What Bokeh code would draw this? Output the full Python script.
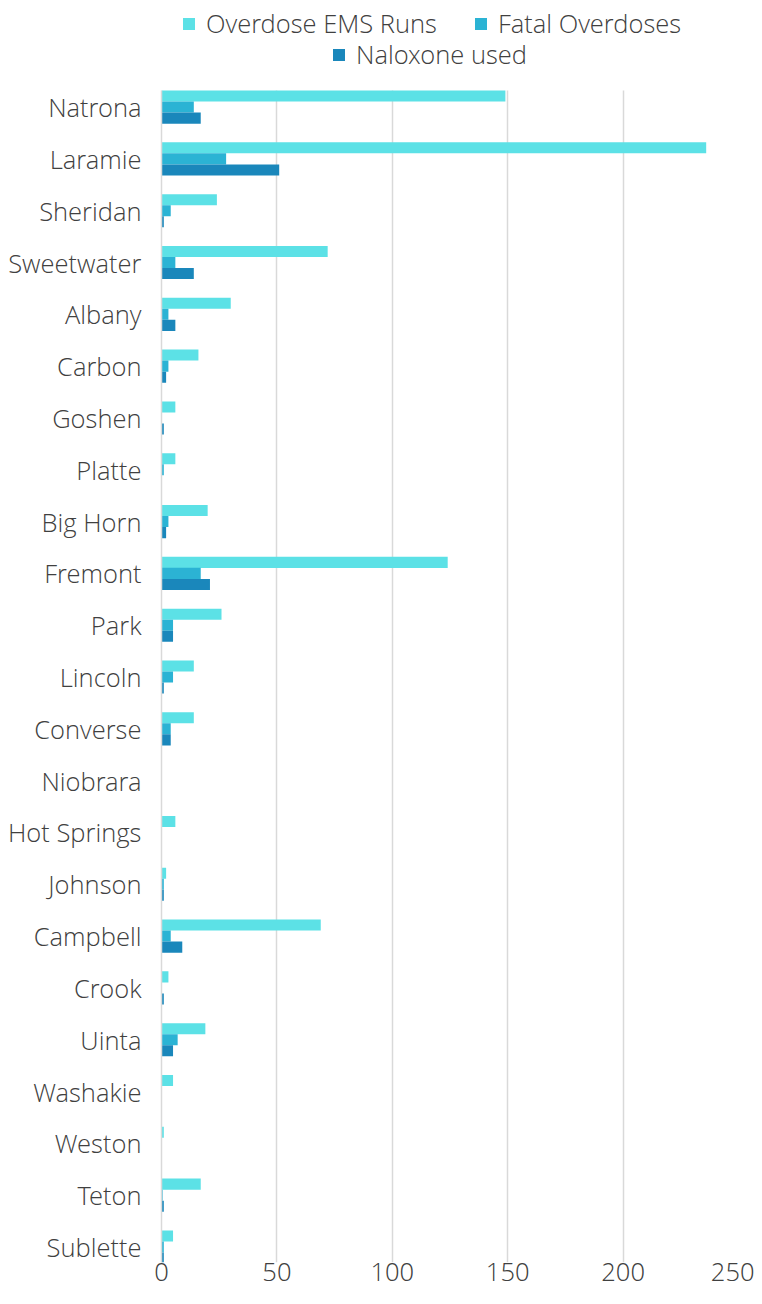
from bokeh.plotting import figure
from bokeh.models import Range1d, Legend, LegendItem, FixedTicker, ColumnDataSource, Grid
from bokeh.transform import dodge
from bokeh.embed import file_html
from bokeh.resources import INLINE

counties = ["Natrona", "Laramie", "Sheridan", "Sweetwater", "Albany", "Carbon", "Goshen",
            "Platte", "Big Horn", "Fremont", "Park", "Lincoln", "Converse", "Niobrara",
            "Hot Springs", "Johnson", "Campbell", "Crook", "Uinta", "Washakie", "Weston",
            "Teton", "Sublette"]
ems_runs = [149, 236, 24, 72, 30, 16, 6, 6, 20, 124, 26, 14, 14, 0, 6, 2, 69, 3, 19, 5, 1, 17, 5]
fatal_overdoses = [14, 28, 4, 6, 3, 3, 0, 1, 3, 17, 5, 5, 4, 0, 0, 1, 4, 0, 7, 0, 0, 0.5, 1]
naloxone_used = [17, 51, 1, 14, 6, 2, 1, 0, 2, 21, 5, 1, 4, 0, 0, 1, 9, 1, 5, 0, 0, 1, 1]
x_ticks = [0, 50, 100, 150, 200, 250]

C_EMS = "#5ce1e6"
C_FATAL = "#2bb3d4"
C_NALOX = "#1a87bb"
TXT = "#404040"
FONT = "Open Sans Light, Open Sans"
FS = "25.5px"

idx = list(range(len(counties)))
src = ColumnDataSource(dict(y=idx, ems=ems_runs, fatal=fatal_overdoses, nalox=naloxone_used))

n = len(counties)
W, H = 754, 1296
LEFT, RIGHT_B, BOTTOM_B = 161, 16, 34
PLOT_H = 1172                 # height of the bar area
LEGEND_H = H - BOTTOM_B - PLOT_H   # room above the bars, inside the frame, for the legend
data_top, data_bot = -0.32, n - 1 + 0.30
ppu = PLOT_H / (data_bot - data_top)
range_top = data_top - LEGEND_H / ppu
FRAME_H = H - BOTTOM_B

p = figure(width=W, height=H, output_backend="svg", toolbar_location=None,
           x_range=Range1d(0, 250), y_range=Range1d(data_bot, range_top),
           min_border_left=LEFT, min_border_right=RIGHT_B, min_border_top=0,
           min_border_bottom=BOTTOM_B)

bh = 0.213
r1 = p.hbar(y=dodge("y", -bh, range=p.y_range), right="ems", left=0, height=bh, source=src,
            fill_color=C_EMS, line_color=None)
r2 = p.hbar(y=dodge("y", 0, range=p.y_range), right="fatal", left=0, height=bh, source=src,
            fill_color=C_FATAL, line_color=None)
r3 = p.hbar(y=dodge("y", bh, range=p.y_range), right="nalox", left=0, height=bh, source=src,
            fill_color=C_NALOX, line_color=None)

p.outline_line_color = None
p.ygrid.visible = False
p.xgrid.ticker = FixedTicker(ticks=x_ticks)
p.xgrid.grid_line_color = "#d9d9d9"
p.xgrid.grid_line_width = 1.5
if "cross_bounds" in Grid.properties():
    p.xgrid.cross_bounds = (data_top, data_bot)

p.xaxis.ticker = FixedTicker(ticks=x_ticks)
p.xaxis.axis_line_color = None
p.xaxis.major_tick_line_color = None
p.xaxis.minor_tick_line_color = None
p.xaxis.major_tick_out = 0
p.xaxis.major_label_text_font_size = FS
p.xaxis.major_label_text_font = FONT
p.xaxis.major_label_text_color = TXT
p.xaxis.major_label_standoff = 0

p.yaxis.ticker = FixedTicker(ticks=idx)
p.yaxis.bounds = (data_top, data_bot)
p.yaxis.major_label_overrides = {i: c for i, c in enumerate(counties)}
p.yaxis.axis_line_color = "#d9d9d9"
p.yaxis.axis_line_width = 1.5
p.yaxis.major_tick_line_color = None
p.yaxis.minor_tick_line_color = None
p.yaxis.major_tick_out = 0
p.yaxis.major_label_text_font_size = FS
p.yaxis.major_label_text_font = FONT
p.yaxis.major_label_text_color = TXT
p.yaxis.major_label_standoff = 20

common = dict(orientation="horizontal", glyph_width=15, glyph_height=15, label_standoff=10,
              spacing=36, padding=0, margin=0, border_line_color=None, background_fill_alpha=0,
              label_text_font_size=FS, label_text_font=FONT, label_text_color=TXT)
leg1 = Legend(items=[LegendItem(label="Overdose EMS Runs", renderers=[r1]),
                     LegendItem(label="Fatal Overdoses", renderers=[r2])],
              location=(20, FRAME_H - 40), **common)
leg2 = Legend(items=[LegendItem(label="Naloxone used", renderers=[r3])],
              location=(170, FRAME_H - 71), **common)
p.add_layout(leg1, "center")
p.add_layout(leg2, "center")

open("out.html", "w").write(file_html(p, INLINE))
